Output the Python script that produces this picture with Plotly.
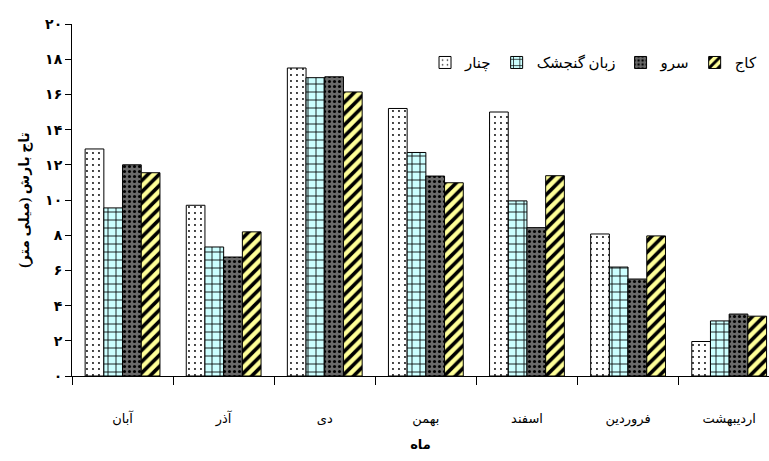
import plotly.graph_objects as go

months = ["آبان", "آذر", "دی", "بهمن", "اسفند", "فروردین", "اردیبهشت"]
chenar = [12.9, 9.7, 17.5, 15.2, 15.0, 8.07, 1.96]
zaban_gonjeshk = [9.55, 7.33, 16.95, 12.7, 9.95, 6.19, 3.13]
sarv = [12.0, 6.76, 17.0, 11.36, 8.43, 5.51, 3.52]
kaj = [11.55, 8.19, 16.14, 10.98, 11.38, 7.96, 3.40]
series_names = ["چنار", "زبان گنجشک", "سرو", "کاج"]
ytick_vals = [0, 2, 4, 6, 8, 10, 12, 14, 16, 18, 20]
ytick_text = ["۰", "۲", "۴", "۶", "۸", "۱۰", "۱۲", "۱۴", "۱۶", "۱۸", "۲۰"]

styles = [
    dict(shape=".", bgcolor="#ffffff", fgcolor="#000000", size=6, solidity=0.08),
    dict(shape="+", bgcolor="#ccffff", fgcolor="#000000", size=8, solidity=0.2),
    dict(shape=".", bgcolor="#6a6a6a", fgcolor="#000000", size=5, solidity=0.3),
    dict(shape="/", bgcolor="#ffff99", fgcolor="#000000", size=8, solidity=0.45),
]

fig = go.Figure()
for name, vals, st in zip(series_names, [chenar, zaban_gonjeshk, sarv, kaj], styles):
    fig.add_trace(go.Bar(
        x=months, y=vals, name=name,
        marker=dict(color=st["bgcolor"], line=dict(color="#000000", width=1),
                    pattern=dict(shape=st["shape"], bgcolor=st["bgcolor"],
                                 fgcolor=st["fgcolor"], size=st["size"],
                                 solidity=st["solidity"], fillmode="replace")),
    ))

font_family = "Liberation Serif, DejaVu Sans, serif"
fig.update_layout(
    width=769, height=461,
    margin=dict(l=72, r=0, t=24, b=85),
    paper_bgcolor="white", plot_bgcolor="white",
    barmode="group", bargap=0.26, bargroupgap=0,
    font=dict(family=font_family, color="#000000", size=13),
    showlegend=True,
    legend=dict(orientation="h", x=0.99, y=0.89, xanchor="right", yanchor="middle",
                font=dict(size=15), bgcolor="rgba(0,0,0,0)",
                traceorder="normal"),
    xaxis=dict(
        range=[-0.5, 6.394], showline=True, linecolor="#000000", linewidth=1,
        ticks="outside", tickson="boundaries", ticklen=8, tickcolor="#000000",
        ticklabelstandoff=30, tickfont=dict(size=13),
        title=dict(text="<b>ماه</b>", font=dict(size=13), standoff=14),
        showgrid=False, zeroline=False, automargin=False,
    ),
    yaxis=dict(
        range=[0, 20], showline=True, linecolor="#000000", linewidth=1,
        tickmode="array", tickvals=ytick_vals, ticktext=ytick_text,
        ticks="outside", ticklen=6, tickcolor="#000000",
        tickfont=dict(size=14, family="DejaVu Sans", weight="bold"),
        title=dict(text="<b>تاج بارش (میلی متر)</b>", font=dict(size=14), standoff=12),
        showgrid=False, zeroline=False, automargin=False,
    ),
)

fig.write_html("out.html")
